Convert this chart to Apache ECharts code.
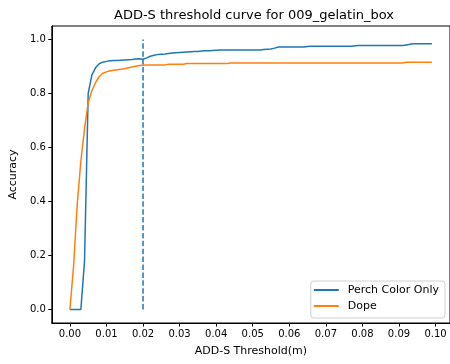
<!DOCTYPE html>
<html>
<head>
<meta charset="utf-8">
<script src="https://cdn.jsdelivr.net/npm/echarts@6/dist/echarts.min.js"></script>
<style>
  html, body {margin: 0; padding: 0; background: #fff;}
  #chart {width: 450px; height: 364px;}
</style>
</head>
<body>
<div id="chart"></div>
<script>
// threshold grid (m)
const thresholds = [
  0.000, 0.001, 0.002, 0.003, 0.004, 0.005, 0.006, 0.007, 0.008, 0.009,
  0.010, 0.011, 0.012, 0.013, 0.014, 0.015, 0.016, 0.017, 0.018, 0.019,
  0.020, 0.021, 0.022, 0.023, 0.024, 0.025, 0.026, 0.027, 0.028, 0.029,
  0.030, 0.031, 0.032, 0.033, 0.034, 0.035, 0.036, 0.037, 0.038, 0.039,
  0.040, 0.041, 0.042, 0.043, 0.044, 0.045, 0.046, 0.047, 0.048, 0.049,
  0.050, 0.051, 0.052, 0.053, 0.054, 0.055, 0.056, 0.057, 0.058, 0.059,
  0.060, 0.061, 0.062, 0.063, 0.064, 0.065, 0.066, 0.067, 0.068, 0.069,
  0.070, 0.071, 0.072, 0.073, 0.074, 0.075, 0.076, 0.077, 0.078, 0.079,
  0.080, 0.081, 0.082, 0.083, 0.084, 0.085, 0.086, 0.087, 0.088, 0.089,
  0.090, 0.091, 0.092, 0.093, 0.094, 0.095, 0.096, 0.097, 0.098, 0.099
];

const perchColorOnly = [
  0, 0, 0, 0, 0.18, 0.80, 0.868, 0.895, 0.91, 0.916,
  0.919, 0.921, 0.922, 0.922, 0.923, 0.924, 0.925, 0.926, 0.928, 0.929,
  0.927, 0.932, 0.938, 0.942, 0.944, 0.945, 0.946, 0.948, 0.950, 0.951,
  0.952, 0.953, 0.954, 0.955, 0.956, 0.956, 0.957, 0.958, 0.958, 0.959,
  0.960, 0.961, 0.961, 0.961, 0.961, 0.961, 0.961, 0.961, 0.961, 0.961,
  0.961, 0.961, 0.961, 0.963, 0.964, 0.965, 0.968, 0.972, 0.972, 0.972,
  0.972, 0.972, 0.972, 0.972, 0.972, 0.974, 0.975, 0.975, 0.975, 0.975,
  0.975, 0.975, 0.975, 0.975, 0.975, 0.975, 0.975, 0.975, 0.977, 0.978,
  0.978, 0.978, 0.978, 0.978, 0.978, 0.978, 0.978, 0.978, 0.978, 0.978,
  0.978, 0.978, 0.980, 0.982, 0.984, 0.984, 0.984, 0.984, 0.984, 0.984
];

const dope = [
  0, 0.16, 0.39, 0.55, 0.67, 0.765, 0.81, 0.84, 0.862, 0.875,
  0.88, 0.884, 0.886, 0.888, 0.89, 0.892, 0.895, 0.898, 0.901, 0.904,
  0.905, 0.906, 0.906, 0.906, 0.906, 0.906, 0.906, 0.908, 0.908, 0.908,
  0.908, 0.908, 0.911, 0.911, 0.911, 0.911, 0.911, 0.911, 0.911, 0.911,
  0.911, 0.911, 0.911, 0.911, 0.913, 0.913, 0.913, 0.913, 0.913, 0.913,
  0.913, 0.913, 0.913, 0.913, 0.913, 0.913, 0.913, 0.913, 0.913, 0.913,
  0.913, 0.913, 0.913, 0.913, 0.913, 0.913, 0.913, 0.913, 0.913, 0.913,
  0.913, 0.913, 0.913, 0.913, 0.913, 0.913, 0.913, 0.913, 0.913, 0.913,
  0.913, 0.913, 0.913, 0.913, 0.913, 0.913, 0.913, 0.913, 0.913, 0.913,
  0.913, 0.913, 0.916, 0.916, 0.916, 0.916, 0.916, 0.916, 0.916, 0.916
];

// dashed marker at the 2 cm threshold
const markerX = 0.02;
const markerY = [0, 1.0];

const xTicks = [0, 0.01, 0.02, 0.03, 0.04, 0.05, 0.06, 0.07, 0.08, 0.09, 0.10];
const yTicks = [0, 0.2, 0.4, 0.6, 0.8, 1.0];

const font = 'DejaVu Sans';
const chart = echarts.init(document.getElementById('chart'), null, {renderer: 'canvas'});

chart.setOption({
  animation: false,
  backgroundColor: '#fff',
  textStyle: {fontFamily: font},
  title: {
    text: 'ADD-S threshold curve for 009_gelatin_box',
    left: 249,
    top: 4,
    textAlign: 'center',
    textStyle: {fontFamily: font, fontSize: 13, fontWeight: 'normal', color: '#000'}
  },
  grid: {
    left: 51, right: -1, top: 26, bottom: 41,
    show: true, borderColor: '#000', borderWidth: 1, backgroundColor: 'transparent'
  },
  legend: {
    orient: 'vertical',
    right: 5,
    bottom: 46,
    data: ['Perch Color Only', 'Dope'],
    icon: 'rect',
    itemWidth: 25,
    itemHeight: 2,
    itemGap: 4,
    padding: [3, 6, 6, 3],
    borderColor: '#d0d0d0',
    borderWidth: 1,
    borderRadius: 3,
    backgroundColor: '#fff',
    textStyle: {fontFamily: font, fontSize: 11, lineHeight: 12, color: '#000', padding: [0, 0, 0, 4]}
  },
  xAxis: {
    type: 'value',
    min: -0.00495,
    max: 0.10395,
    name: 'ADD-S Threshold(m)',
    nameLocation: 'middle',
    nameGap: 23,
    nameTextStyle: {fontFamily: font, fontSize: 11, color: '#000'},
    axisLine: {show: true, onZero: false, lineStyle: {color: '#000', width: 1}},
    axisTick: {show: true, length: 3.5, lineStyle: {color: '#000'}, customValues: xTicks},
    axisLabel: {
      color: '#000', fontSize: 10, margin: 6, customValues: xTicks,
      formatter: v => v.toFixed(2)
    },
    splitLine: {show: false}
  },
  yAxis: {
    type: 'value',
    min: -0.05,
    max: 1.05,
    name: 'Accuracy',
    nameLocation: 'middle',
    nameGap: 31,
    nameRotate: 90,
    nameTextStyle: {fontFamily: font, fontSize: 11, color: '#000'},
    axisLine: {show: true, onZero: false, lineStyle: {color: '#000', width: 1}},
    axisTick: {show: true, length: 3.5, lineStyle: {color: '#000'}, customValues: yTicks},
    axisLabel: {
      color: '#000', fontSize: 10, margin: 6, customValues: yTicks,
      formatter: v => v.toFixed(1)
    },
    splitLine: {show: false}
  },
  series: [
    {
      name: 'Perch Color Only',
      type: 'line',
      data: thresholds.map((x, i) => [x, perchColorOnly[i]]),
      color: '#1f77b4'
    },
    {
      name: 'Dope',
      type: 'line',
      data: thresholds.map((x, i) => [x, dope[i]]),
      color: '#ff7f0e'
    },
    {
      name: 'marker',
      type: 'line',
      data: markerY.map(y => [markerX, y]),
      color: '#1f77b4',
      lineStyle: {width: 1.5, type: [5.5, 2.4]}
    }
  ].map(s => ({
    ...s,
    showSymbol: false,
    symbol: 'none',
    silent: true,
    lineStyle: {width: 1.5, ...(s.lineStyle || {})}
  }))
});
</script>
</body>
</html>
